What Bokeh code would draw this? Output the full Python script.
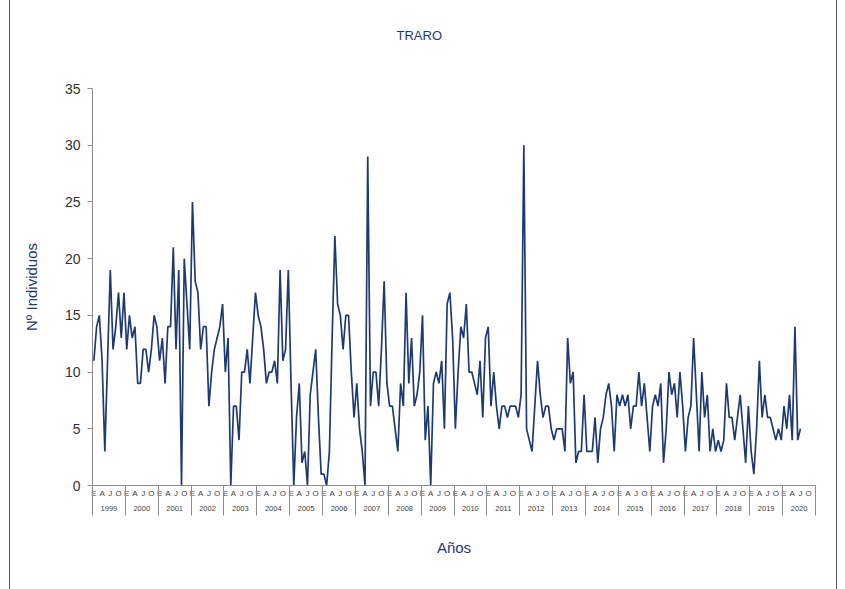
from bokeh.plotting import figure
from bokeh.models import Range1d, FixedTicker, LinearAxis, ColumnDataSource, Title
from bokeh.embed import file_html
from bokeh.resources import INLINE

years = [str(y) for y in range(1999, 2021)]
month_letters = ["E", "A", "J", "O"]
month_letter_pos = [0, 3, 6, 9]

v1999 = [11, 14, 15, 11, 3, 11, 19, 12, 14, 17, 13, 17]
v2000 = [12, 15, 13, 14, 9, 9, 12, 12, 10, 12, 15, 14]
v2001 = [11, 13, 9, 14, 14, 21, 12, 19, 0, 20, 16, 12]
v2002 = [25, 18, 17, 12, 14, 14, 7, 10, 12, 13, 14, 16]
v2003 = [10, 13, 0, 7, 7, 4, 10, 10, 12, 9, 13, 17]
v2004 = [15, 14, 12, 9, 10, 10, 11, 9, 19, 11, 12, 19]
v2005 = [9, 0, 6, 9, 2, 3, 0, 8, 10, 12, 6, 1]
v2006 = [1, 0, 3, 13, 22, 16, 15, 12, 15, 15, 10, 6]
v2007 = [9, 5, 3, 0, 29, 7, 10, 10, 7, 12, 18, 9]
v2008 = [7, 7, 5, 3, 9, 7, 17, 9, 13, 7, 8, 10]
v2009 = [15, 4, 7, 0, 9, 10, 9, 11, 5, 16, 17, 13]
v2010 = [5, 10, 14, 13, 16, 10, 10, 9, 8, 11, 6, 13]
v2011 = [14, 7, 10, 7, 5, 7, 7, 6, 7, 7, 7, 6]
v2012 = [8, 30, 5, 4, 3, 7, 11, 8, 6, 7, 7, 5]
v2013 = [4, 5, 5, 5, 3, 13, 9, 10, 2, 3, 3, 8]
v2014 = [3, 3, 3, 6, 2, 5, 6, 8, 9, 7, 3, 8]
v2015 = [7, 8, 7, 8, 5, 7, 7, 10, 7, 9, 6, 3]
v2016 = [7, 8, 7, 9, 2, 5, 10, 8, 9, 6, 10, 7]
v2017 = [3, 6, 7, 13, 8, 3, 10, 6, 8, 3, 5, 3]
v2018 = [4, 3, 4, 9, 6, 6, 4, 6, 8, 5, 2, 7]
v2019 = [3, 1, 5, 11, 6, 8, 6, 6, 5, 4, 5, 4]
v2020 = [7, 5, 8, 4, 14, 4, 5]

yearly = [v1999, v2000, v2001, v2002, v2003, v2004, v2005, v2006, v2007, v2008,
          v2009, v2010, v2011, v2012, v2013, v2014, v2015, v2016, v2017, v2018,
          v2019, v2020]

values = [v for yr in yearly for v in yr]
month_idx = list(range(len(values)))
n_months = 12 * len(years)

NAVY = "#1F3A73"
AXIS_GRAY = "#8C8C8C"
FONT = "Liberation Sans"

src = ColumnDataSource(dict(x=month_idx, y=values))

p = figure(width=828, height=589, output_backend="svg", toolbar_location=None,
           x_range=Range1d(-0.5, n_months - 0.5), y_range=Range1d(0, 35),
           min_border_left=82, min_border_right=23, min_border_top=88,
           min_border_bottom=104)
p.margin = (0, 0, 0, 9)
p.styles = {"border-left": "1px solid #5a5a5a", "border-right": "1px solid #5a5a5a"}
p.outline_line_color = None
p.xgrid.visible = False
p.ygrid.visible = False
p.background_fill_color = "white"
p.border_fill_color = "white"

p.line("x", "y", source=src, line_color=NAVY, line_width=1.7)

# spacer between plot frame and title
spacer = Title(text=" ", text_font_size="1px", standoff=43)
p.add_layout(spacer, "above")

# title
p.title.text = "TRARO"
p.title.text_color = NAVY
p.title.text_font = FONT
p.title.text_font_size = "13px"
p.title.text_font_style = "normal"
p.title.align = "left"
p.title.offset = 304
p.title.standoff = 0

# y axis
p.yaxis.ticker = FixedTicker(ticks=list(range(0, 36, 5)), minor_ticks=[])
p.yaxis.axis_line_color = AXIS_GRAY
p.yaxis.major_tick_line_color = AXIS_GRAY
p.yaxis.major_tick_out = 5
p.yaxis.major_tick_in = 0
p.yaxis.minor_tick_line_color = None
p.yaxis.major_label_text_font = FONT
p.yaxis.major_label_text_font_size = "14px"
p.yaxis.major_label_text_color = "#333333"
p.yaxis.major_label_standoff = 7
p.yaxis.axis_label = "Nº Individuos"
p.yaxis.axis_label_text_font = FONT
p.yaxis.axis_label_text_font_size = "15px"
p.yaxis.axis_label_text_font_style = "normal"
p.yaxis.axis_label_text_color = NAVY
p.yaxis.axis_label_standoff = 22

# x axis level 1: month letters
month_ticks = [12 * k + m for k in range(len(years)) for m in month_letter_pos]
month_labels = {12 * k + m: month_letters[j] for k in range(len(years))
                for j, m in enumerate(month_letter_pos)}
xa = p.xaxis[0]
xa.ticker = FixedTicker(ticks=month_ticks, minor_ticks=[])
xa.major_label_overrides = month_labels
xa.axis_line_color = AXIS_GRAY
xa.major_tick_line_color = None
xa.major_tick_out = 0
xa.major_tick_in = 0
xa.minor_tick_line_color = None
xa.major_label_text_font = FONT
xa.major_label_text_font_size = "8px"
xa.major_label_text_color = "#404040"
xa.major_label_standoff = 3

# x axis level 2: years
year_ticks = [12 * k + 5.5 for k in range(len(years))]
xb = LinearAxis(ticker=FixedTicker(ticks=year_ticks, minor_ticks=[]))
xb.major_label_overrides = {12 * k + 5.5: years[k] for k in range(len(years))}
xb.axis_line_color = None
xb.major_tick_line_color = None
xb.major_tick_out = 0
xb.major_tick_in = 0
xb.minor_tick_line_color = None
xb.major_label_text_font = FONT
xb.major_label_text_font_size = "7.5px"
xb.major_label_text_color = "#404040"
xb.major_label_standoff = 5
p.add_layout(xb, "below")

# x axis level 3: year separators + axis title
boundaries = [12 * k - 0.5 for k in range(len(years) + 1)]
xc = LinearAxis(ticker=FixedTicker(ticks=[], minor_ticks=boundaries))
xc.axis_line_color = None
xc.major_tick_line_color = None
xc.major_tick_out = 0
xc.major_tick_in = 0
xc.major_label_text_font_size = "0px"
xc.major_label_standoff = 0
xc.minor_tick_line_color = AXIS_GRAY
xc.minor_tick_in = 28
xc.minor_tick_out = 2
xc.axis_label = "Años"
xc.axis_label_text_font = FONT
xc.axis_label_text_font_size = "15px"
xc.axis_label_text_font_style = "normal"
xc.axis_label_text_color = NAVY
xc.axis_label_standoff = 23
p.add_layout(xc, "below")

open("out.html", "w").write(file_html(p, INLINE))
